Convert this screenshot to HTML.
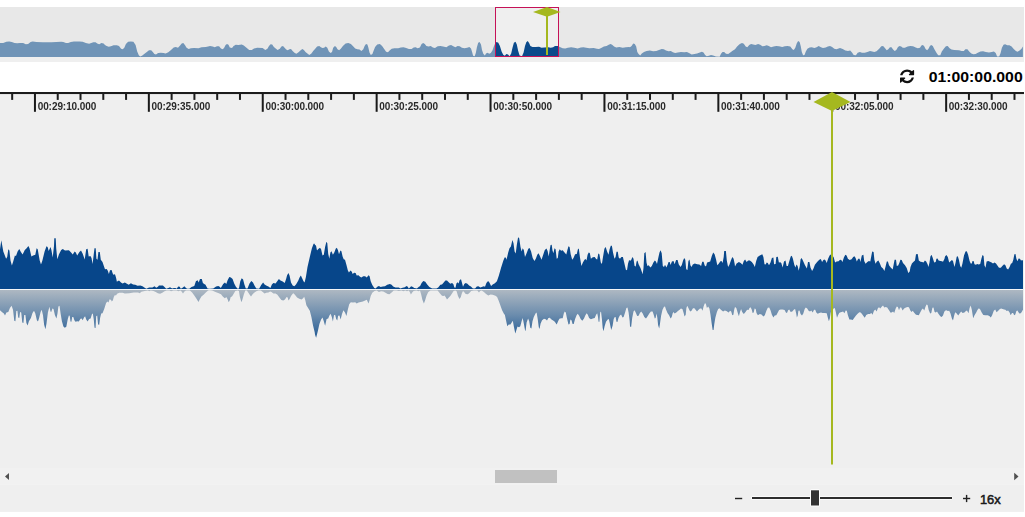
<!DOCTYPE html>
<html><head><meta charset="utf-8">
<style>
html,body{margin:0;padding:0;background:#fff;}
body{width:1025px;height:517px;overflow:hidden;position:relative;font-family:"Liberation Sans",sans-serif;}
svg{position:absolute;left:0;top:0;}
.rl{font:bold 10px "Liberation Sans",sans-serif;fill:#2a2a2a;letter-spacing:-0.07px;}
.tm{font:bold 15.2px "Liberation Sans",sans-serif;fill:#000;}
.zx{font:13.6px "Liberation Sans",sans-serif;fill:#1a1a1a;stroke:#1a1a1a;stroke-width:0.55px;}
</style></head><body>
<svg width="1025" height="517" viewBox="0 0 1025 517">
<defs>
<linearGradient id="rg" x1="0" y1="290" x2="0" y2="340" gradientUnits="userSpaceOnUse">
<stop offset="0" stop-color="#aeb8c2"/><stop offset="0.5" stop-color="#6b8cad"/><stop offset="1" stop-color="#1b5591"/>
</linearGradient>
<clipPath id="sel"><rect x="496" y="8" width="62" height="49"/></clipPath>
</defs>
<!-- overview -->
<rect x="0" y="7" width="1024" height="50" fill="#e8e8e8"/>
<rect x="0" y="57" width="1024" height="5" fill="#efefef"/>
<path d="M0.0,57L0.0,43.1L3.2,42.9L6.4,41.8L9.1,41.4L11.8,42.0L14.5,43.1L17.2,43.3L19.9,42.9L23.1,43.1L25.8,44.2L28.1,44.0L30.6,42.0L32.7,41.6L36.5,42.0L42.9,42.2L51.5,42.2L61.2,41.8L63.3,42.0L66.0,43.1L68.2,43.1L70.8,42.0L74.0,41.6L79.4,41.6L82.6,41.8L85.9,42.9L89.1,43.7L91.2,43.1L93.4,42.2L95.5,42.2L97.7,43.7L99.3,44.2L101.4,43.1L103.6,43.5L105.0,45.0L106.6,46.1L108.8,46.7L110.9,46.3L113.6,45.2L116.8,45.2L119.0,46.1L121.1,48.8L122.7,49.3L124.3,47.7L125.9,44.0L128.1,41.8L130.8,41.6L133.4,41.8L135.6,45.0L137.2,51.5L138.8,55.2L140.2,56.6L142.0,55.8L144.2,54.1L146.8,52.0L149.0,50.2L151.2,50.2L152.8,52.0L154.4,54.1L156.0,54.5L158.1,53.1L160.8,52.8L163.5,53.1L165.6,53.4L168.3,52.3L171.0,49.9L173.7,47.4L175.8,47.0L178.0,47.7L180.1,45.6L181.7,43.4L183.3,43.1L184.9,45.0L186.6,47.7L188.7,49.1L190.9,48.2L194.1,48.0L198.4,48.2L201.6,47.2L205.9,47.0L209.1,46.3L210.0,46.1L212.7,46.6L214.8,47.2L217.0,46.3L219.1,46.3L220.7,48.2L222.3,49.3L223.9,48.2L225.6,45.0L227.0,44.0L228.5,44.8L229.8,47.4L232.0,48.0L233.6,46.1L235.8,44.8L238.4,45.0L241.7,44.6L243.8,45.6L246.5,47.7L249.2,49.9L251.8,50.0L254.0,48.5L257.2,47.8L262.6,48.0L265.3,49.9L267.4,48.8L269.0,46.1L270.6,44.2L272.2,44.5L273.9,47.0L276.0,48.8L277.6,49.9L279.8,48.8L281.4,46.6L283.0,46.1L284.6,47.7L286.2,49.5L287.8,50.2L289.4,49.3L291.0,49.1L292.6,50.9L294.8,53.1L296.4,53.8L298.5,52.3L300.7,50.2L302.3,49.1L303.9,49.9L305.5,52.0L307.7,53.8L309.3,54.9L311.4,53.6L313.6,50.4L315.0,49.1L317.1,46.6L319.3,46.1L320.9,47.2L322.5,48.0L324.1,47.7L325.7,46.6L327.3,47.7L328.9,51.5L330.6,53.1L332.0,52.0L333.2,47.7L334.9,46.1L336.2,47.0L337.5,49.3L339.1,50.2L340.8,48.8L342.9,45.9L345.6,43.4L348.3,42.9L350.9,44.0L353.1,46.3L355.2,48.5L357.4,49.3L359.5,49.5L361.4,50.9L363.3,49.3L364.6,45.9L366.0,44.0L367.4,44.5L368.4,47.7L369.5,52.5L370.8,54.9L372.4,54.1L373.5,50.9L375.1,47.0L377.2,44.5L379.9,44.0L382.1,45.9L384.2,49.1L386.1,51.7L388.0,52.3L389.6,50.4L391.7,48.8L394.4,48.2L398.2,48.2L400.9,47.4L403.5,47.2L406.2,48.0L408.9,49.1L411.6,49.1L413.7,47.4L415.7,47.2L417.5,48.2L419.3,47.7L420.0,47.2L421.6,44.0L423.2,42.9L424.8,44.0L426.4,46.1L428.6,46.6L430.7,46.1L432.9,47.4L435.0,48.0L437.7,46.3L440.4,45.9L443.1,46.6L446.3,47.2L449.0,45.6L451.1,45.0L453.3,46.3L455.4,47.2L457.6,46.1L459.7,46.3L461.9,47.7L464.5,48.2L467.2,47.7L469.4,47.0L471.0,48.5L472.1,52.0L473.1,55.8L474.7,56.3L475.8,53.1L476.9,47.2L478.2,42.7L479.6,42.0L481.0,44.5L482.0,49.9L483.3,53.8L484.9,55.5L486.0,53.6L487.6,52.8L489.2,53.8L490.8,53.1L492.4,50.4L493.8,46.6L495.1,43.4L496.7,42.0L498.3,42.7L499.9,46.1L501.6,51.5L503.2,54.7L504.8,55.8L506.4,54.1L508.0,54.5L509.6,56.3L511.2,53.6L512.5,47.7L513.9,42.7L515.5,41.8L516.8,44.5L518.2,50.9L519.6,55.5L522.0,56.3L523.6,52.5L525.0,46.1L526.3,42.3L527.7,41.0L529.1,42.9L530.4,45.9L532.5,47.0L535.7,47.0L539.0,46.7L541.6,47.7L544.3,47.4L548.1,47.2L550.8,47.7L553.1,47.2L555.0,46.1L557.7,45.9L559.9,47.0L562.6,48.2L565.2,48.5L567.9,47.7L571.1,47.2L574.4,47.7L577.6,48.5L580.8,47.4L583.5,47.2L586.2,47.7L589.4,48.2L593.7,48.0L596.9,48.8L599.0,49.1L601.2,48.0L603.9,46.6L606.6,46.1L608.7,44.8L610.6,44.0L612.1,44.8L614.1,46.6L616.2,47.4L619.4,47.0L622.7,47.7L625.9,47.2L629.1,47.0L630.0,47.2L631.6,46.1L633.2,43.4L634.8,44.0L636.2,46.6L637.3,52.0L638.6,54.1L640.2,55.5L641.8,53.6L644.0,52.0L646.6,50.9L649.9,50.6L653.1,51.2L656.3,50.9L659.0,49.9L661.7,49.1L663.8,49.3L666.0,50.6L668.6,51.2L670.8,50.9L672.9,52.3L675.1,53.1L677.8,52.5L681.0,52.1L684.2,52.3L686.9,52.0L689.0,53.1L691.7,54.5L694.4,54.1L697.1,53.4L699.8,52.5L701.9,51.7L703.5,52.5L705.1,54.9L706.7,56.3L708.9,55.8L711.0,54.9L713.2,55.5L715.9,56.6L719.6,56.8L721.0,53.8L722.5,52.0L724.2,52.0L726.0,53.8L728.2,54.1L730.3,52.5L733.0,50.6L735.0,49.3L737.1,46.6L739.8,44.0L742.0,42.9L743.8,43.7L745.7,46.6L747.3,47.2L749.2,45.0L751.1,44.0L753.2,44.5L755.4,45.0L758.1,44.0L760.2,44.8L762.4,46.3L764.5,46.1L766.7,45.2L768.8,46.1L771.0,47.2L773.6,46.6L776.3,46.1L779.0,46.3L782.2,47.0L784.9,46.3L787.6,46.1L790.3,46.6L792.4,49.3L793.8,49.9L795.3,47.7L796.7,43.4L798.1,41.0L799.6,42.0L800.7,46.1L801.8,52.0L803.1,55.2L804.5,54.9L805.8,51.5L807.4,48.8L809.6,47.4L811.7,47.2L814.4,48.0L816.6,47.2L818.7,46.1L820.9,47.2L823.0,48.0L825.7,47.4L827.8,46.6L830.0,46.1L832.1,47.0L834.3,48.8L836.4,49.3L838.6,48.5L840.0,48.0L842.7,49.1L845.4,50.6L848.0,50.9L850.2,50.6L852.0,52.5L853.7,54.9L855.9,55.2L857.7,52.8L859.9,52.0L862.0,52.8L864.7,52.8L867.4,52.0L870.0,51.0L872.2,51.5L874.3,52.1L876.5,51.2L879.2,48.8L881.3,46.3L883.1,46.1L884.9,48.0L886.7,50.2L888.3,49.3L889.9,47.2L891.5,47.2L893.1,49.5L894.7,50.9L896.3,49.9L898.0,47.0L899.6,45.9L901.2,46.6L902.8,47.7L904.9,47.7L907.6,46.6L910.3,46.1L913.0,46.3L915.7,47.4L917.8,48.2L920.0,47.7L921.4,45.6L922.9,45.0L924.2,46.3L925.6,49.1L927.1,50.2L928.5,48.8L929.9,45.9L931.2,45.0L932.8,46.1L934.4,49.3L936.6,53.1L938.2,55.2L940.3,55.2L941.8,51.5L944.0,48.5L945.9,46.3L947.7,46.1L949.6,48.2L951.5,49.5L954.2,50.0L959.0,50.2L961.7,51.0L963.8,50.9L965.4,49.3L967.4,49.3L969.2,51.5L971.3,53.4L973.5,54.2L975.6,54.0L977.8,52.8L980.5,51.5L983.1,51.2L985.8,52.1L989.0,52.5L991.7,52.1L993.9,51.5L995.7,53.1L997.1,56.6L999.2,56.6L1000.6,53.1L1001.9,47.7L1003.5,44.8L1005.1,44.2L1007.3,45.2L1009.4,45.2L1011.6,46.6L1013.7,49.1L1015.9,50.9L1017.5,51.7L1019.6,50.6L1021.5,48.8L1022.9,46.6L1022.9,57Z" fill="#7094b7"/>
<rect x="495.5" y="7.5" width="63" height="49" fill="#efefef"/>
<path d="M0.0,57L0.0,43.1L3.2,42.9L6.4,41.8L9.1,41.4L11.8,42.0L14.5,43.1L17.2,43.3L19.9,42.9L23.1,43.1L25.8,44.2L28.1,44.0L30.6,42.0L32.7,41.6L36.5,42.0L42.9,42.2L51.5,42.2L61.2,41.8L63.3,42.0L66.0,43.1L68.2,43.1L70.8,42.0L74.0,41.6L79.4,41.6L82.6,41.8L85.9,42.9L89.1,43.7L91.2,43.1L93.4,42.2L95.5,42.2L97.7,43.7L99.3,44.2L101.4,43.1L103.6,43.5L105.0,45.0L106.6,46.1L108.8,46.7L110.9,46.3L113.6,45.2L116.8,45.2L119.0,46.1L121.1,48.8L122.7,49.3L124.3,47.7L125.9,44.0L128.1,41.8L130.8,41.6L133.4,41.8L135.6,45.0L137.2,51.5L138.8,55.2L140.2,56.6L142.0,55.8L144.2,54.1L146.8,52.0L149.0,50.2L151.2,50.2L152.8,52.0L154.4,54.1L156.0,54.5L158.1,53.1L160.8,52.8L163.5,53.1L165.6,53.4L168.3,52.3L171.0,49.9L173.7,47.4L175.8,47.0L178.0,47.7L180.1,45.6L181.7,43.4L183.3,43.1L184.9,45.0L186.6,47.7L188.7,49.1L190.9,48.2L194.1,48.0L198.4,48.2L201.6,47.2L205.9,47.0L209.1,46.3L210.0,46.1L212.7,46.6L214.8,47.2L217.0,46.3L219.1,46.3L220.7,48.2L222.3,49.3L223.9,48.2L225.6,45.0L227.0,44.0L228.5,44.8L229.8,47.4L232.0,48.0L233.6,46.1L235.8,44.8L238.4,45.0L241.7,44.6L243.8,45.6L246.5,47.7L249.2,49.9L251.8,50.0L254.0,48.5L257.2,47.8L262.6,48.0L265.3,49.9L267.4,48.8L269.0,46.1L270.6,44.2L272.2,44.5L273.9,47.0L276.0,48.8L277.6,49.9L279.8,48.8L281.4,46.6L283.0,46.1L284.6,47.7L286.2,49.5L287.8,50.2L289.4,49.3L291.0,49.1L292.6,50.9L294.8,53.1L296.4,53.8L298.5,52.3L300.7,50.2L302.3,49.1L303.9,49.9L305.5,52.0L307.7,53.8L309.3,54.9L311.4,53.6L313.6,50.4L315.0,49.1L317.1,46.6L319.3,46.1L320.9,47.2L322.5,48.0L324.1,47.7L325.7,46.6L327.3,47.7L328.9,51.5L330.6,53.1L332.0,52.0L333.2,47.7L334.9,46.1L336.2,47.0L337.5,49.3L339.1,50.2L340.8,48.8L342.9,45.9L345.6,43.4L348.3,42.9L350.9,44.0L353.1,46.3L355.2,48.5L357.4,49.3L359.5,49.5L361.4,50.9L363.3,49.3L364.6,45.9L366.0,44.0L367.4,44.5L368.4,47.7L369.5,52.5L370.8,54.9L372.4,54.1L373.5,50.9L375.1,47.0L377.2,44.5L379.9,44.0L382.1,45.9L384.2,49.1L386.1,51.7L388.0,52.3L389.6,50.4L391.7,48.8L394.4,48.2L398.2,48.2L400.9,47.4L403.5,47.2L406.2,48.0L408.9,49.1L411.6,49.1L413.7,47.4L415.7,47.2L417.5,48.2L419.3,47.7L420.0,47.2L421.6,44.0L423.2,42.9L424.8,44.0L426.4,46.1L428.6,46.6L430.7,46.1L432.9,47.4L435.0,48.0L437.7,46.3L440.4,45.9L443.1,46.6L446.3,47.2L449.0,45.6L451.1,45.0L453.3,46.3L455.4,47.2L457.6,46.1L459.7,46.3L461.9,47.7L464.5,48.2L467.2,47.7L469.4,47.0L471.0,48.5L472.1,52.0L473.1,55.8L474.7,56.3L475.8,53.1L476.9,47.2L478.2,42.7L479.6,42.0L481.0,44.5L482.0,49.9L483.3,53.8L484.9,55.5L486.0,53.6L487.6,52.8L489.2,53.8L490.8,53.1L492.4,50.4L493.8,46.6L495.1,43.4L496.7,42.0L498.3,42.7L499.9,46.1L501.6,51.5L503.2,54.7L504.8,55.8L506.4,54.1L508.0,54.5L509.6,56.3L511.2,53.6L512.5,47.7L513.9,42.7L515.5,41.8L516.8,44.5L518.2,50.9L519.6,55.5L522.0,56.3L523.6,52.5L525.0,46.1L526.3,42.3L527.7,41.0L529.1,42.9L530.4,45.9L532.5,47.0L535.7,47.0L539.0,46.7L541.6,47.7L544.3,47.4L548.1,47.2L550.8,47.7L553.1,47.2L555.0,46.1L557.7,45.9L559.9,47.0L562.6,48.2L565.2,48.5L567.9,47.7L571.1,47.2L574.4,47.7L577.6,48.5L580.8,47.4L583.5,47.2L586.2,47.7L589.4,48.2L593.7,48.0L596.9,48.8L599.0,49.1L601.2,48.0L603.9,46.6L606.6,46.1L608.7,44.8L610.6,44.0L612.1,44.8L614.1,46.6L616.2,47.4L619.4,47.0L622.7,47.7L625.9,47.2L629.1,47.0L630.0,47.2L631.6,46.1L633.2,43.4L634.8,44.0L636.2,46.6L637.3,52.0L638.6,54.1L640.2,55.5L641.8,53.6L644.0,52.0L646.6,50.9L649.9,50.6L653.1,51.2L656.3,50.9L659.0,49.9L661.7,49.1L663.8,49.3L666.0,50.6L668.6,51.2L670.8,50.9L672.9,52.3L675.1,53.1L677.8,52.5L681.0,52.1L684.2,52.3L686.9,52.0L689.0,53.1L691.7,54.5L694.4,54.1L697.1,53.4L699.8,52.5L701.9,51.7L703.5,52.5L705.1,54.9L706.7,56.3L708.9,55.8L711.0,54.9L713.2,55.5L715.9,56.6L719.6,56.8L721.0,53.8L722.5,52.0L724.2,52.0L726.0,53.8L728.2,54.1L730.3,52.5L733.0,50.6L735.0,49.3L737.1,46.6L739.8,44.0L742.0,42.9L743.8,43.7L745.7,46.6L747.3,47.2L749.2,45.0L751.1,44.0L753.2,44.5L755.4,45.0L758.1,44.0L760.2,44.8L762.4,46.3L764.5,46.1L766.7,45.2L768.8,46.1L771.0,47.2L773.6,46.6L776.3,46.1L779.0,46.3L782.2,47.0L784.9,46.3L787.6,46.1L790.3,46.6L792.4,49.3L793.8,49.9L795.3,47.7L796.7,43.4L798.1,41.0L799.6,42.0L800.7,46.1L801.8,52.0L803.1,55.2L804.5,54.9L805.8,51.5L807.4,48.8L809.6,47.4L811.7,47.2L814.4,48.0L816.6,47.2L818.7,46.1L820.9,47.2L823.0,48.0L825.7,47.4L827.8,46.6L830.0,46.1L832.1,47.0L834.3,48.8L836.4,49.3L838.6,48.5L840.0,48.0L842.7,49.1L845.4,50.6L848.0,50.9L850.2,50.6L852.0,52.5L853.7,54.9L855.9,55.2L857.7,52.8L859.9,52.0L862.0,52.8L864.7,52.8L867.4,52.0L870.0,51.0L872.2,51.5L874.3,52.1L876.5,51.2L879.2,48.8L881.3,46.3L883.1,46.1L884.9,48.0L886.7,50.2L888.3,49.3L889.9,47.2L891.5,47.2L893.1,49.5L894.7,50.9L896.3,49.9L898.0,47.0L899.6,45.9L901.2,46.6L902.8,47.7L904.9,47.7L907.6,46.6L910.3,46.1L913.0,46.3L915.7,47.4L917.8,48.2L920.0,47.7L921.4,45.6L922.9,45.0L924.2,46.3L925.6,49.1L927.1,50.2L928.5,48.8L929.9,45.9L931.2,45.0L932.8,46.1L934.4,49.3L936.6,53.1L938.2,55.2L940.3,55.2L941.8,51.5L944.0,48.5L945.9,46.3L947.7,46.1L949.6,48.2L951.5,49.5L954.2,50.0L959.0,50.2L961.7,51.0L963.8,50.9L965.4,49.3L967.4,49.3L969.2,51.5L971.3,53.4L973.5,54.2L975.6,54.0L977.8,52.8L980.5,51.5L983.1,51.2L985.8,52.1L989.0,52.5L991.7,52.1L993.9,51.5L995.7,53.1L997.1,56.6L999.2,56.6L1000.6,53.1L1001.9,47.7L1003.5,44.8L1005.1,44.2L1007.3,45.2L1009.4,45.2L1011.6,46.6L1013.7,49.1L1015.9,50.9L1017.5,51.7L1019.6,50.6L1021.5,48.8L1022.9,46.6L1022.9,57Z" fill="#0b4a8b" clip-path="url(#sel)"/>
<rect x="495.5" y="7.5" width="63" height="49" fill="none" stroke="#c51257" stroke-width="1"/>
<!-- overview marker -->
<rect x="546" y="14" width="2" height="41" fill="#a5b81f"/>
<polygon points="533,12 547,7 560.5,12 547,16.8" fill="#a5b81f"/>
<!-- main -->
<rect x="0" y="93" width="1024" height="375" fill="#efefef"/>
<rect x="0" y="92" width="1024" height="2.05" fill="#1c1c1c"/>
<rect x="-11.61" y="93" width="2" height="6.9" fill="#1c1c1c"/>
<rect x="11.17" y="93" width="2" height="6.9" fill="#1c1c1c"/>
<rect x="33.95" y="93" width="2" height="18.8" fill="#1a1a1a"/>
<rect x="56.73" y="93" width="2" height="6.9" fill="#1c1c1c"/>
<rect x="79.51" y="93" width="2" height="6.9" fill="#1c1c1c"/>
<rect x="102.29" y="93" width="2" height="6.9" fill="#1c1c1c"/>
<rect x="125.07" y="93" width="2" height="6.9" fill="#1c1c1c"/>
<rect x="147.85" y="93" width="2" height="18.8" fill="#1a1a1a"/>
<rect x="170.63" y="93" width="2" height="6.9" fill="#1c1c1c"/>
<rect x="193.41" y="93" width="2" height="6.9" fill="#1c1c1c"/>
<rect x="216.19" y="93" width="2" height="6.9" fill="#1c1c1c"/>
<rect x="238.97" y="93" width="2" height="6.9" fill="#1c1c1c"/>
<rect x="261.75" y="93" width="2" height="18.8" fill="#1a1a1a"/>
<rect x="284.53" y="93" width="2" height="6.9" fill="#1c1c1c"/>
<rect x="307.31" y="93" width="2" height="6.9" fill="#1c1c1c"/>
<rect x="330.09" y="93" width="2" height="6.9" fill="#1c1c1c"/>
<rect x="352.87" y="93" width="2" height="6.9" fill="#1c1c1c"/>
<rect x="375.65" y="93" width="2" height="18.8" fill="#1a1a1a"/>
<rect x="398.43" y="93" width="2" height="6.9" fill="#1c1c1c"/>
<rect x="421.21" y="93" width="2" height="6.9" fill="#1c1c1c"/>
<rect x="443.99" y="93" width="2" height="6.9" fill="#1c1c1c"/>
<rect x="466.77" y="93" width="2" height="6.9" fill="#1c1c1c"/>
<rect x="489.55" y="93" width="2" height="18.8" fill="#1a1a1a"/>
<rect x="512.33" y="93" width="2" height="6.9" fill="#1c1c1c"/>
<rect x="535.11" y="93" width="2" height="6.9" fill="#1c1c1c"/>
<rect x="557.89" y="93" width="2" height="6.9" fill="#1c1c1c"/>
<rect x="580.67" y="93" width="2" height="6.9" fill="#1c1c1c"/>
<rect x="603.45" y="93" width="2" height="18.8" fill="#1a1a1a"/>
<rect x="626.23" y="93" width="2" height="6.9" fill="#1c1c1c"/>
<rect x="649.01" y="93" width="2" height="6.9" fill="#1c1c1c"/>
<rect x="671.79" y="93" width="2" height="6.9" fill="#1c1c1c"/>
<rect x="694.57" y="93" width="2" height="6.9" fill="#1c1c1c"/>
<rect x="717.35" y="93" width="2" height="18.8" fill="#1a1a1a"/>
<rect x="740.13" y="93" width="2" height="6.9" fill="#1c1c1c"/>
<rect x="762.91" y="93" width="2" height="6.9" fill="#1c1c1c"/>
<rect x="785.69" y="93" width="2" height="6.9" fill="#1c1c1c"/>
<rect x="808.47" y="93" width="2" height="6.9" fill="#1c1c1c"/>
<rect x="831.25" y="93" width="2" height="18.8" fill="#1a1a1a"/>
<rect x="854.03" y="93" width="2" height="6.9" fill="#1c1c1c"/>
<rect x="876.81" y="93" width="2" height="6.9" fill="#1c1c1c"/>
<rect x="899.59" y="93" width="2" height="6.9" fill="#1c1c1c"/>
<rect x="922.37" y="93" width="2" height="6.9" fill="#1c1c1c"/>
<rect x="945.15" y="93" width="2" height="18.8" fill="#1a1a1a"/>
<rect x="967.93" y="93" width="2" height="6.9" fill="#1c1c1c"/>
<rect x="990.71" y="93" width="2" height="6.9" fill="#1c1c1c"/>
<rect x="1013.49" y="93" width="2" height="6.9" fill="#1c1c1c"/>
<g style="filter:grayscale(1)"><text x="37.65" y="110" class="rl">00:29:10.000</text>
<text x="151.55" y="110" class="rl">00:29:35.000</text>
<text x="265.45" y="110" class="rl">00:30:00.000</text>
<text x="379.35" y="110" class="rl">00:30:25.000</text>
<text x="493.25" y="110" class="rl">00:30:50.000</text>
<text x="607.15" y="110" class="rl">00:31:15.000</text>
<text x="721.05" y="110" class="rl">00:31:40.000</text>
<text x="834.95" y="110" class="rl">00:32:05.000</text>
<text x="948.85" y="110" class="rl">00:32:30.000</text></g>
<!-- waveform -->
<path d="M0.0,289.5L0.0,310.2L2.2,312.2L3.9,313.6L5.0,315.5L6.4,312.4L8.3,311.9L9.9,308.0L11.6,305.8L13.0,309.7L14.3,320.7L15.4,321.3L16.3,311.1L17.4,310.8L18.2,317.4L19.3,318.0L20.1,311.9L21.2,312.4L22.3,322.4L23.4,322.9L24.2,314.9L25.4,314.9L26.4,322.9L27.6,325.5L28.9,321.3L30.9,318.0L32.5,313.0L34.0,310.8L35.3,313.6L36.9,320.2L38.0,321.5L39.1,318.0L40.6,311.9L41.7,309.7L43.0,315.2L44.1,324.6L45.4,329.2L46.5,323.5L47.9,312.4L49.4,306.7L50.5,311.4L51.2,311.9L52.4,308.6L53.5,309.1L54.9,314.9L56.4,318.5L57.5,313.6L58.4,306.4L59.5,305.8L60.6,313.6L61.9,321.3L63.4,326.6L64.8,327.7L66.3,326.8L67.8,319.1L68.9,315.5L69.7,315.8L70.5,321.5L71.4,321.8L72.2,317.1L73.3,316.9L74.4,320.2L75.5,321.8L77.2,321.3L78.8,321.5L80.5,318.8L81.6,318.5L82.7,320.2L84.0,317.4L85.1,316.3L86.2,319.6L87.6,321.5L89.1,319.1L90.6,318.5L92.0,314.1L92.8,313.6L93.7,319.1L94.6,327.7L95.5,327.9L96.2,316.3L97.2,315.5L98.1,324.6L99.2,324.8L100.1,318.0L101.2,313.6L102.5,313.3L104.2,309.1L105.0,306.4L106.1,303.1L107.4,301.4L108.5,302.5L109.6,299.2L111.1,300.1L111.8,301.4L112.9,300.3L113.8,297.0L114.9,295.0L116.0,295.4L117.1,293.7L119.3,292.8L122.6,292.8L124.8,293.5L129.2,293.2L133.7,292.4L138.1,292.4L139.7,293.2L141.4,291.7L144.7,291.0L148.0,290.6L149.1,291.3L150.7,290.4L153.5,291.0L155.7,292.1L157.9,293.2L160.1,293.7L162.3,292.8L164.5,291.3L166.7,290.4L169.5,290.4L171.1,291.3L173.3,290.4L176.6,290.4L178.3,291.3L180.5,290.6L181.6,291.5L183.0,293.5L184.4,291.5L186.0,290.4L189.9,290.4L192.1,292.6L194.3,295.4L196.5,298.7L198.5,302.0L199.8,299.2L201.4,296.5L203.6,294.8L205.8,292.6L208.1,290.6L209.2,290.2L210.0,290.2L212.2,290.6L215.5,292.1L218.8,293.2L221.0,294.3L223.0,296.8L224.9,298.3L226.3,297.0L227.6,299.2L228.7,302.3L229.8,300.3L230.7,297.0L232.0,296.5L233.7,293.7L235.3,291.0L237.6,290.4L238.9,291.0L239.8,296.5L241.4,302.3L242.5,299.2L243.9,294.3L245.3,290.6L246.9,290.6L248.4,292.8L249.7,294.8L251.0,296.5L252.4,294.6L254.1,292.8L256.3,291.3L258.5,290.4L260.9,290.6L262.7,292.1L264.6,293.5L266.2,292.8L268.4,292.4L270.1,291.5L271.5,292.1L273.4,293.5L275.6,293.5L277.4,294.8L279.4,297.6L281.4,300.1L283.3,300.6L284.9,299.4L286.6,297.0L287.7,297.6L288.5,300.6L289.6,299.0L291.0,296.1L292.7,293.7L293.5,293.2L294.9,294.8L297.1,297.6L299.3,298.7L301.5,299.4L303.1,298.3L304.2,296.8L305.3,300.3L306.4,305.3L308.1,308.0L309.8,310.8L311.4,316.9L313.1,325.7L314.7,332.3L315.0,334.5L316.1,337.8L317.8,331.2L319.4,324.0L321.1,319.6L322.5,317.4L323.8,321.3L325.1,325.7L326.6,319.1L328.2,318.5L329.3,315.8L330.6,313.8L331.8,316.9L332.9,321.5L334.0,315.2L335.1,314.7L336.2,319.1L337.3,320.4L338.1,315.8L339.5,315.5L340.6,319.6L342.0,314.1L343.4,310.2L345.0,312.4L346.4,316.0L347.8,309.7L349.2,304.2L350.8,302.3L353.0,302.5L355.2,302.3L356.7,303.4L358.5,302.5L360.7,302.0L362.9,301.4L365.1,300.6L366.8,299.8L368.5,303.6L369.6,300.3L370.7,295.9L372.3,292.8L374.5,291.0L376.7,290.6L378.9,292.1L381.1,291.3L383.3,291.5L385.5,292.8L387.7,293.9L389.4,294.3L391.6,292.4L393.8,290.6L396.6,290.4L398.8,291.0L401.5,290.4L403.2,291.3L405.4,290.4L407.0,291.3L408.7,290.4L409.8,292.1L410.9,294.6L412.2,292.6L413.6,291.0L416.4,290.4L418.6,291.3L420.0,290.4L421.1,294.3L422.4,299.8L423.9,303.6L425.3,299.8L426.6,295.4L428.3,292.1L430.5,290.6L434.3,290.4L437.6,290.6L439.8,293.2L442.0,295.7L443.4,296.1L444.5,295.4L445.9,297.6L447.0,299.4L448.4,297.9L450.3,295.9L452.0,293.5L453.6,291.0L455.3,290.4L456.6,291.3L458.0,296.1L459.5,299.0L460.8,297.0L461.9,293.2L463.0,291.0L464.1,292.1L465.7,293.9L467.9,294.3L469.6,292.8L471.2,291.0L474.0,290.4L477.3,290.6L479.0,292.4L480.1,291.0L481.7,290.6L483.9,292.1L486.1,293.9L488.3,295.4L490.5,294.6L492.7,294.8L495.5,295.7L497.1,297.0L498.8,300.9L500.5,305.8L502.1,310.2L503.8,313.6L504.9,314.9L506.0,320.2L507.3,326.2L508.7,324.6L510.4,324.4L511.7,322.4L512.8,320.7L513.9,326.8L515.3,333.6L516.4,330.1L517.5,326.6L519.0,327.3L520.3,326.2L521.6,321.3L522.7,318.0L523.8,323.5L525.0,330.1L525.5,331.2L526.6,322.4L528.1,318.5L529.2,321.3L530.3,327.7L531.4,328.4L532.5,321.3L533.8,316.9L535.5,313.6L536.6,312.4L537.7,319.1L538.8,327.3L539.5,329.0L540.6,323.5L542.1,320.2L544.0,318.8L545.7,319.3L547.0,320.4L548.4,318.0L549.8,317.7L551.2,319.3L553.1,320.4L554.8,321.8L556.7,324.6L558.1,321.3L559.4,318.8L561.1,318.2L562.7,318.2L563.8,313.6L564.7,311.6L565.8,312.4L566.9,318.0L568.5,324.4L569.6,324.0L570.4,319.6L571.5,320.2L572.6,324.0L573.7,324.0L575.1,319.1L576.6,315.2L577.7,313.8L579.0,315.5L580.7,319.1L582.3,320.7L584.0,318.5L585.4,315.2L586.7,313.3L587.8,314.7L589.1,318.0L590.9,319.3L592.8,318.5L594.7,318.0L596.1,314.7L597.2,313.3L598.0,316.9L598.6,321.8L599.4,321.8L600.2,312.4L601.0,311.6L601.9,319.1L602.7,327.9L603.5,331.2L604.6,326.2L606.0,321.8L607.7,319.6L608.8,319.1L609.9,323.5L611.2,329.9L612.6,325.7L613.7,319.1L614.8,316.9L615.6,317.1L616.5,321.8L617.4,322.1L618.5,318.0L619.8,315.5L621.1,314.4L622.5,317.4L623.6,316.9L625.1,312.4L626.4,308.0L627.5,307.5L628.6,312.4L629.7,321.3L630.0,326.2L631.1,327.3L632.2,318.0L633.5,311.6L634.6,310.2L635.7,312.4L637.2,316.0L638.6,315.8L639.9,313.0L641.2,311.4L642.7,313.6L644.3,316.9L646.0,318.5L647.6,316.3L649.3,313.6L650.9,311.6L652.6,311.6L653.7,314.7L654.8,318.5L655.6,318.0L656.5,313.6L657.3,317.4L658.1,325.1L659.2,328.4L660.0,323.5L661.1,315.8L662.5,309.7L664.0,306.7L665.0,306.4L666.1,309.7L667.5,313.0L669.1,315.2L670.6,318.5L671.7,316.9L672.8,313.0L673.5,311.9L674.6,313.6L676.3,312.4L677.9,311.1L679.6,309.7L680.9,308.6L682.4,309.1L683.5,312.4L684.6,316.6L685.7,314.7L686.4,308.0L687.3,305.8L688.4,308.0L690.1,311.4L691.5,310.8L692.8,308.6L694.1,308.0L695.6,309.7L697.0,311.4L698.3,310.0L700.0,308.6L701.4,308.6L702.5,310.8L703.6,306.4L704.7,303.6L705.8,303.6L706.9,308.0L708.2,306.4L709.4,308.6L710.5,314.7L711.6,322.9L712.7,329.9L713.5,330.1L714.3,324.0L715.4,317.4L716.9,311.9L718.2,308.9L719.5,308.3L720.9,309.7L723.1,311.4L724.8,310.5L726.4,311.1L728.6,312.4L730.1,310.8L731.2,311.4L732.3,315.2L733.4,314.7L734.2,309.7L735.0,306.9L736.3,308.0L737.8,313.0L738.9,316.3L740.0,311.9L741.1,309.1L742.2,311.9L743.8,314.1L745.5,311.9L747.1,309.7L748.5,310.0L749.5,308.0L750.6,307.2L751.8,309.7L752.6,313.0L753.7,312.4L754.6,308.6L755.7,309.1L756.5,313.0L757.9,315.2L759.8,314.1L761.5,314.4L763.4,316.6L764.8,315.2L766.4,310.8L767.8,307.8L769.2,307.5L770.5,310.2L771.9,314.7L773.4,317.4L774.7,315.5L776.3,315.2L777.8,312.4L779.1,310.0L780.7,309.4L782.6,309.4L784.6,310.0L785.9,312.4L787.0,313.0L788.1,310.2L789.2,309.4L790.7,311.9L792.3,311.6L794.0,309.4L795.1,308.9L796.2,313.6L796.9,317.4L797.8,315.2L798.4,310.8L799.5,310.5L800.6,314.1L802.0,315.5L803.3,313.6L804.7,309.1L805.8,307.5L807.2,308.6L808.6,310.8L810.0,311.4L811.3,310.5L812.7,312.4L814.1,309.7L815.2,309.7L816.3,312.4L817.7,313.8L819.3,313.0L821.0,312.4L822.6,313.0L824.8,313.0L826.7,313.3L827.8,317.4L828.9,321.3L829.8,318.5L830.7,312.4L833.6,308.6L834.8,308.0L835.9,312.4L837.0,317.7L838.0,315.2L839.2,313.0L840.0,312.4L841.6,311.9L843.1,311.4L844.4,313.3L845.7,310.5L846.8,310.8L847.9,315.2L849.4,319.6L851.0,319.6L852.7,319.9L854.1,318.0L856.0,315.5L857.6,313.8L859.3,312.2L860.7,312.4L862.0,314.1L863.4,316.0L864.8,317.7L866.2,314.9L868.1,314.1L869.8,314.1L871.4,313.0L872.5,314.7L874.0,310.8L875.3,309.4L876.6,311.4L878.0,308.0L879.1,307.2L880.2,308.6L881.9,306.4L883.0,305.6L884.3,307.5L885.7,306.9L887.2,307.5L889.0,310.2L890.7,312.7L892.0,312.2L893.1,311.4L894.2,313.0L895.7,308.6L896.8,306.4L897.9,306.9L899.0,310.2L900.1,307.5L901.2,307.5L902.6,310.5L904.1,308.6L905.9,307.5L907.5,306.9L908.9,307.2L910.5,310.8L911.6,311.9L912.7,310.8L914.4,313.0L916.0,314.7L917.7,314.9L918.8,315.2L920.2,312.4L921.8,309.4L922.9,308.6L924.3,310.5L925.4,306.9L926.5,304.5L927.6,305.0L928.7,310.0L930.2,313.6L931.3,313.0L932.4,307.8L933.5,307.5L934.6,311.9L935.7,312.4L937.0,311.6L938.6,314.1L940.3,316.3L941.6,316.9L943.0,315.5L944.2,311.9L945.0,310.8L946.4,310.2L947.8,311.1L949.2,310.8L950.5,313.6L951.9,318.5L953.0,320.4L954.1,315.8L955.2,312.2L956.7,313.6L958.2,315.5L959.6,313.6L961.1,311.4L962.6,313.0L964.4,312.4L965.9,311.1L967.0,310.5L968.5,313.3L969.6,308.0L970.7,305.6L971.8,309.7L973.2,318.2L974.5,315.2L976.2,312.4L977.6,309.7L978.9,308.3L980.2,309.4L981.7,312.4L983.3,314.9L985.5,315.2L987.7,315.2L989.4,316.0L990.8,317.4L992.1,315.2L993.8,310.8L995.2,309.4L996.6,312.2L998.2,310.8L999.9,309.1L1001.2,308.6L1002.6,309.1L1004.1,309.4L1005.4,309.7L1006.7,311.1L1008.1,310.5L1009.6,312.4L1010.7,315.2L1012.0,313.0L1013.1,313.0L1014.2,315.2L1015.3,314.4L1016.4,311.1L1017.5,310.5L1018.6,312.4L1019.9,313.8L1021.4,312.4L1022.5,310.5L1023.0,309.7L1023.0,289.5Z" fill="url(#rg)"/>
<path d="M0.0,289.5L0.0,249.3L1.3,240.3L3.3,251.5L6.1,258.7L7.2,257.0L8.3,249.3L9.4,250.4L10.5,260.4L11.9,265.6L13.2,261.4L14.9,255.4L16.0,255.9L17.6,251.5L19.3,249.1L20.9,252.1L22.6,254.6L24.8,249.9L26.4,248.4L28.4,246.0L29.5,248.2L31.4,256.5L33.1,255.4L35.3,254.8L36.6,248.2L37.7,249.3L39.7,260.4L41.0,264.5L42.4,260.4L44.6,251.5L46.5,246.3L47.6,247.1L48.7,251.0L50.5,247.1L51.4,249.9L52.7,257.6L54.0,246.0L54.3,238.3L55.7,238.3L56.2,248.2L57.3,259.2L59.0,254.3L61.2,249.9L62.8,249.1L65.0,250.4L68.9,250.2L71.1,252.6L72.7,254.6L74.7,251.5L75.8,252.6L77.2,255.4L79.4,252.1L81.0,250.4L82.7,253.7L84.7,259.5L86.2,249.3L87.6,248.8L88.7,256.5L90.4,255.9L91.5,258.1L92.6,263.9L93.7,254.8L94.5,248.2L95.7,248.2L96.4,258.7L97.5,259.8L98.4,252.1L99.8,252.1L100.8,259.8L102.5,262.0L104.2,267.0L105.0,269.2L106.7,268.9L107.8,270.8L108.9,274.1L110.0,270.3L111.6,270.1L112.7,273.6L113.8,274.9L114.9,274.1L116.0,277.4L116.9,281.8L118.2,280.7L119.3,280.7L121.0,282.6L122.6,283.5L124.8,282.4L126.5,283.5L128.7,284.8L130.9,283.3L133.1,284.4L135.3,284.8L137.5,285.7L140.3,285.5L142.5,286.2L144.7,287.7L146.3,288.8L148.0,288.1L149.1,287.4L152.4,287.4L154.6,286.2L156.2,287.7L157.9,286.8L159.0,285.5L162.9,285.5L164.5,287.0L166.2,288.8L168.4,287.9L170.0,287.2L172.2,288.6L173.9,288.1L175.5,287.9L176.6,288.8L178.3,286.6L179.7,286.8L180.8,288.8L182.2,288.1L184.4,286.2L186.0,287.9L187.1,288.8L189.3,288.8L191.5,287.0L194.3,285.9L195.9,281.3L197.6,280.2L198.7,282.4L200.0,278.9L201.8,278.9L202.9,282.9L204.2,284.1L205.5,284.8L207.5,288.5L209.2,288.8L210.0,288.8L213.3,288.5L216.1,286.6L218.3,286.1L219.7,286.8L220.8,288.1L223.2,284.1L224.9,282.4L226.3,284.1L227.6,280.2L229.3,276.9L230.9,277.4L232.6,279.1L234.2,283.5L235.9,286.8L237.6,288.8L238.9,288.5L240.3,281.3L241.7,278.2L243.1,279.6L244.4,284.6L245.8,288.5L247.5,288.5L249.5,283.5L251.3,281.1L253.0,282.6L254.6,285.7L256.3,288.5L259.1,288.8L261.2,285.1L263.1,282.4L264.6,284.6L266.2,285.5L268.4,286.6L270.4,288.1L271.9,284.6L273.4,282.9L275.6,283.5L277.2,281.3L278.9,279.1L280.5,280.4L282.7,281.5L284.7,282.9L286.1,279.1L287.1,275.2L288.5,273.0L289.6,275.8L291.0,282.4L292.7,285.5L294.3,286.2L296.0,284.6L298.2,280.7L299.8,276.9L300.9,275.6L302.0,278.0L303.5,281.3L304.6,282.4L305.9,276.9L307.5,267.0L309.8,257.0L311.9,248.2L313.6,243.8L314.7,243.8L315.0,245.5L315.9,245.1L317.0,250.4L318.3,249.1L320.0,247.7L321.1,249.3L322.5,255.4L323.8,254.8L325.1,247.1L326.4,241.8L327.3,243.3L328.2,253.7L329.3,258.7L330.4,252.6L331.5,251.3L332.9,254.8L334.3,252.6L335.7,248.8L336.8,247.7L337.9,249.9L339.0,254.3L340.4,250.4L341.4,251.3L342.6,256.5L343.7,259.2L345.0,259.8L346.4,264.8L347.8,270.3L348.9,272.5L350.5,270.5L351.6,271.4L352.7,274.1L354.1,272.7L355.6,273.0L356.7,275.6L358.5,275.2L360.0,276.7L361.3,277.4L363.3,276.3L365.1,276.3L366.8,277.4L368.5,275.2L369.6,276.3L370.7,281.3L372.3,285.1L374.3,288.1L375.6,288.5L377.3,286.8L378.9,285.9L380.6,287.0L382.8,286.4L385.0,286.2L387.2,284.8L389.9,284.1L391.6,284.8L393.2,286.6L395.5,287.4L398.8,287.4L400.4,288.5L402.6,287.7L404.8,287.2L406.5,286.1L407.8,286.8L408.7,288.5L410.0,287.4L411.1,286.2L412.9,287.0L414.2,288.1L416.9,288.5L419.2,286.6L420.0,286.2L421.6,282.9L423.3,281.1L425.3,281.8L427.2,284.6L429.4,287.0L432.1,288.5L436.5,288.5L438.2,287.4L440.4,284.8L442.0,284.4L443.7,282.4L445.4,280.4L447.0,280.4L448.7,282.2L450.3,283.7L452.0,282.9L453.3,284.1L454.4,287.4L455.5,287.7L456.4,283.5L457.5,282.2L458.6,283.5L459.7,280.0L461.0,279.3L461.9,282.4L463.0,286.8L464.3,284.1L465.7,282.9L467.4,283.7L469.1,285.5L470.9,286.6L472.9,288.5L475.1,288.5L476.8,286.6L478.4,286.2L480.4,287.4L482.3,286.8L483.9,286.2L485.0,286.8L486.4,282.9L488.1,281.1L489.4,282.6L491.1,285.9L492.7,284.4L494.9,283.3L496.9,281.3L498.8,275.8L501.0,268.1L503.2,260.9L504.6,257.6L505.8,257.6L506.5,259.8L508.2,252.6L509.5,248.2L510.9,246.6L512.4,240.0L513.5,243.3L514.6,251.5L515.7,253.5L516.8,244.9L518.1,237.2L519.2,238.3L520.5,247.1L521.6,251.5L522.7,248.2L523.8,249.9L525.0,257.0L526.6,253.2L528.3,248.8L529.6,248.0L531.1,251.5L532.7,258.1L534.4,260.9L535.8,258.7L537.3,254.8L538.5,253.2L539.9,255.9L541.5,259.8L543.2,254.8L544.8,249.9L546.5,248.4L547.6,251.0L548.7,256.5L549.8,249.3L550.6,245.1L551.7,244.7L552.5,250.4L553.4,253.2L554.5,248.2L555.6,249.3L556.7,258.7L557.8,258.1L558.6,251.5L559.7,249.3L561.1,250.7L562.7,250.2L564.1,252.1L566.3,254.6L567.4,249.9L568.5,246.2L569.6,246.9L570.7,254.3L572.2,259.8L573.5,258.1L575.1,254.3L576.8,254.0L577.9,249.3L578.8,248.4L579.9,257.0L581.4,266.1L582.9,262.6L584.5,259.8L585.6,259.0L586.5,260.4L587.6,254.8L588.7,252.6L589.8,252.9L590.9,258.7L592.8,257.3L594.7,257.0L596.1,259.0L597.2,259.5L598.3,253.5L599.4,254.3L600.8,262.6L601.9,263.9L603.0,257.0L604.4,248.8L605.7,246.9L607.1,251.5L608.5,254.8L609.6,249.3L610.8,245.8L611.9,245.8L613.0,252.6L614.5,258.7L615.6,257.0L616.5,251.8L617.8,251.8L618.7,257.6L620.0,258.7L621.4,257.0L622.9,257.0L624.2,262.6L625.9,269.7L627.0,270.3L628.0,263.7L629.2,259.8L630.0,260.9L631.3,259.8L632.4,257.0L633.5,258.7L634.6,265.9L635.7,266.4L636.6,261.4L637.5,260.6L638.6,264.2L640.5,268.1L641.9,271.9L642.7,274.1L643.5,268.1L644.3,253.2L645.6,252.1L646.5,262.6L647.4,265.9L648.7,265.3L650.4,267.5L651.8,265.9L653.4,262.6L654.8,260.6L655.9,261.4L657.0,263.9L658.1,258.7L659.5,252.4L660.6,250.2L661.7,253.2L662.8,265.9L664.0,267.0L665.0,264.8L666.4,267.5L667.7,264.5L668.6,262.0L669.7,262.0L670.6,265.0L671.9,261.4L673.5,260.9L674.6,264.2L676.1,260.1L677.6,260.1L678.7,264.2L680.5,267.0L681.8,265.0L683.1,260.6L684.2,257.9L685.3,259.8L686.2,269.2L687.5,270.1L688.4,260.9L689.5,259.5L690.4,265.3L691.5,267.0L692.8,264.5L694.8,263.4L697.2,264.2L699.4,264.5L701.1,265.9L702.2,261.7L703.6,261.7L704.7,265.6L706.0,266.4L707.1,262.6L708.8,262.0L710.2,261.4L711.8,255.9L713.2,252.6L714.6,254.3L716.0,259.2L717.3,265.3L718.7,263.7L720.4,261.2L721.5,260.9L722.6,263.1L723.7,257.0L724.2,251.0L725.9,251.0L726.8,260.4L728.1,267.0L729.4,264.8L730.9,260.4L732.3,257.0L733.6,258.7L734.7,263.9L735.0,266.4L736.6,263.4L738.9,262.0L740.7,263.1L742.5,264.8L743.8,260.9L745.1,259.5L746.6,262.0L748.2,260.6L749.9,260.6L751.8,262.0L753.5,264.2L754.8,267.0L756.2,260.9L757.6,257.0L759.8,255.4L762.3,254.3L763.4,257.0L764.5,264.2L765.6,264.5L766.7,262.6L767.8,263.1L769.0,265.3L770.5,262.6L771.9,257.9L773.4,257.6L774.1,264.2L775.6,263.9L776.3,257.0L777.8,256.8L778.9,262.6L780.2,262.3L781.3,263.1L782.6,267.5L784.0,261.4L785.5,260.6L786.6,265.9L787.9,266.1L789.2,261.4L790.7,256.5L791.8,255.7L792.9,258.7L794.3,264.8L795.4,267.5L796.5,264.5L797.6,265.9L798.7,270.8L799.8,265.9L800.6,259.2L801.7,258.1L803.1,260.9L805.0,265.3L806.9,268.6L808.0,262.0L809.4,262.0L810.5,267.5L812.1,271.1L813.5,268.6L814.9,264.8L817.1,262.0L819.3,259.8L820.8,259.0L822.1,262.0L823.4,260.1L824.5,259.5L825.6,260.4L826.7,263.1L828.1,258.7L829.6,255.4L830.7,254.6L833.6,257.0L835.1,262.6L836.6,261.4L838.6,261.2L840.0,259.8L841.3,260.1L842.4,262.0L843.9,257.6L845.3,254.8L846.6,255.4L847.9,258.7L849.7,260.1L851.6,259.2L853.2,257.0L854.5,256.2L855.6,258.1L856.8,261.4L858.2,258.7L859.6,258.7L860.4,262.0L861.8,255.4L863.4,254.8L864.2,260.9L865.6,263.7L867.3,262.0L868.9,260.9L870.3,261.4L871.4,255.4L872.2,251.5L873.6,252.1L874.4,259.8L875.5,263.7L876.9,261.4L878.4,260.4L879.7,263.1L881.3,267.0L883.0,268.6L884.4,271.1L885.7,265.9L886.8,261.4L887.9,261.4L889.0,265.3L890.7,267.5L892.7,269.4L893.8,263.7L894.6,259.8L896.0,259.8L896.8,265.9L898.2,265.6L899.5,262.6L900.4,259.8L901.7,260.1L903.0,263.1L905.0,265.3L906.7,268.1L908.3,273.0L909.7,271.4L910.5,267.0L911.9,263.4L913.6,261.7L915.0,260.6L916.0,254.3L917.7,254.0L918.8,260.4L920.5,261.7L922.1,262.0L923.5,262.6L924.9,260.6L926.2,261.4L927.6,264.2L928.4,267.0L929.5,262.6L930.4,256.5L931.5,254.8L932.6,257.6L934.2,262.6L935.7,262.0L936.4,258.7L937.5,258.4L938.6,260.6L940.3,260.9L942.0,261.2L943.0,261.7L944.5,258.7L945.0,256.5L946.4,255.1L947.8,257.0L949.2,262.6L950.5,261.2L951.9,260.1L953.0,260.9L954.5,267.0L955.6,262.6L956.7,256.8L957.8,256.2L958.9,259.8L960.2,265.9L961.3,267.8L962.4,263.7L964.0,255.4L965.5,251.5L966.8,251.3L968.1,254.8L969.6,260.9L970.7,263.4L971.8,263.4L972.5,260.9L973.6,260.9L974.5,264.2L975.8,264.8L977.3,263.9L978.7,264.5L980.2,263.9L981.4,258.7L982.5,255.1L983.6,255.9L984.4,265.3L985.5,267.8L986.6,261.4L988.3,260.9L990.0,261.7L991.6,262.6L993.0,263.4L994.6,262.6L996.0,263.4L997.4,265.6L999.0,267.8L1000.8,267.8L1002.3,265.9L1004.1,264.2L1005.4,265.3L1006.7,268.6L1008.1,269.4L1009.6,267.0L1010.9,263.7L1012.2,263.1L1013.3,259.8L1014.4,254.3L1015.5,254.0L1016.4,258.7L1017.5,261.2L1018.6,258.4L1019.9,258.7L1021.0,260.6L1022.5,260.1L1023.0,260.9L1023.0,289.5Z" fill="#07468a"/>
<rect x="0" y="289" width="1023" height="1" fill="#f4f6f8"/>
<!-- playhead -->
<rect x="831" y="100" width="2" height="364.5" fill="#a5b81f"/>
<polygon points="813.5,102 832,92.1 850.6,102 832,111.1" fill="#a5b81f"/>
<!-- scrollbar -->
<rect x="0" y="467.6" width="1024" height="17.3" fill="#f1f1f1"/>
<rect x="495" y="470" width="62" height="13" fill="#c1c1c1"/>
<polygon points="5,476.5 9,473 9,480" fill="#505050"/>
<polygon points="1018.5,476.5 1014.2,472.8 1014.2,480.2" fill="#505050"/>
<!-- slider row -->
<rect x="0" y="484.9" width="1024" height="27" fill="#efefef"/>
<rect x="735" y="497.8" width="7.2" height="1.4" fill="#222"/>
<rect x="751.4" y="496.2" width="201" height="3.6" rx="1" fill="#fff"/>
<rect x="752" y="497" width="200" height="2" fill="#2e2e2e"/>
<rect x="810" y="489.3" width="10" height="17.2" rx="1.5" fill="#fff"/>
<rect x="811" y="490.3" width="8" height="15.2" fill="#333"/>
<rect x="963" y="497.8" width="7.2" height="1.4" fill="#222"/>
<rect x="965.9" y="494.9" width="1.4" height="7.2" fill="#222"/>
<text x="979.9" y="503.5" class="zx" textLength="20.9" lengthAdjust="spacingAndGlyphs">16x</text>
<!-- toolbar -->
<text x="928.7" y="81.9" class="tm" textLength="94" lengthAdjust="spacingAndGlyphs">01:00:00.000</text>
<g transform="translate(900,69.4) scale(0.0092,0.0090)" fill="#111">
<path d="M1511 928q0 5-1 7-64 268-268 434.500t-478 166.500q-146 0-282.500-55t-243.500-157l-129 129q-19 19-45 19t-45-19-19-45v-448q0-26 19-45t45-19h448q26 0 45 19t19 45-19 45l-137 137q71 66 161 102t187 36q134 0 250-65t186-179q11-17 53-117 8-23 30-23h192q13 0 22.500 9.500t9.500 22.500zm25-800v448q0 26-19 45t-45 19h-448q-26 0-45-19t-19-45 19-45l138-138q-148-137-349-137-134 0-250 65t-186 179q-11 17-53 117-8 23-30 23h-199q-13 0-22.500-9.500t-9.500-22.500v-7q65-268 270-434.500t480-166.500q146 0 284 55.500t245 156.500l130-129q19-19 45-19t45 19 19 45z"/>
</g>
</svg>
</body></html>
